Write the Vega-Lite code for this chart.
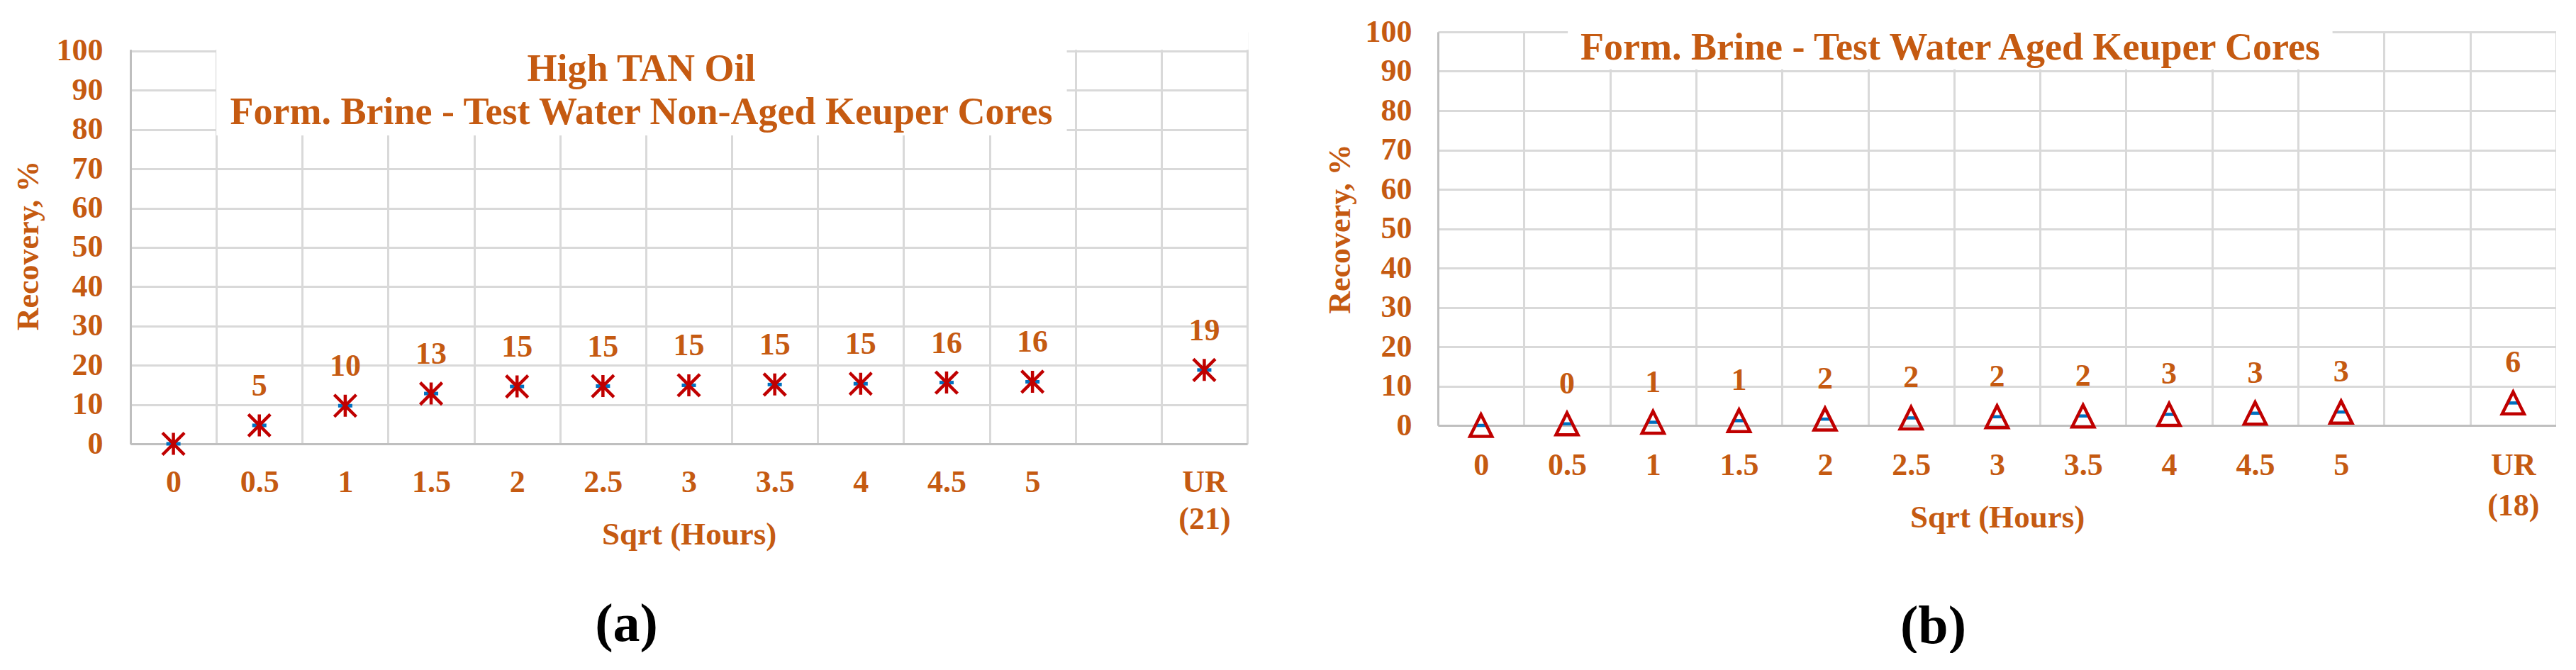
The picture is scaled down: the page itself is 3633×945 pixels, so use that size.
{
  "$schema": "https://vega.github.io/schema/vega-lite/v6.json",
  "background": "white",
  "padding": {"left": 18, "top": 23, "right": 0, "bottom": 0},
  "spacing": 106,
  "config": {"view": {"stroke": null}, "font": "Liberation Serif"},
  "hconcat": [
    {
      "width": 1575,
      "height": 581,
      "title": {
        "text": ["High TAN Oil", "Form. Brine - Test Water Non-Aged Keuper Cores"],
        "fontSize": 54,
        "lineHeight": 61,
        "font": "Liberation Serif",
        "fontWeight": "bold",
        "color": "#C55A11",
        "baseline": "top",
        "offset": -141,
        "dx": -67,
        "anchor": "middle"
      },
      "data": {"values": [
        {"t": "0", "r": 0},
        {"t": "0.5", "r": 4.7},
        {"t": "1", "r": 9.7},
        {"t": "1.5", "r": 12.8},
        {"t": "2", "r": 14.6},
        {"t": "2.5", "r": 14.7},
        {"t": "3", "r": 14.9},
        {"t": "3.5", "r": 15.1},
        {"t": "4", "r": 15.3},
        {"t": "4.5", "r": 15.6},
        {"t": "5", "r": 15.8},
        {"t": "UR", "r": 18.8}
      ]},
      "resolve": {"scale": {"x": "independent"}},
      "layer": [
        {
          "data": {"values": [{}]},
          "layer": [
            {
              "mark": {"type": "rect", "color": "white", "opacity": 1},
              "encoding": {
                "x": {"datum": 1, "type": "quantitative", "title": "(a)", "scale": {"domain": [0, 13], "nice": false, "zero": false},
                  "axis": {"orient": "bottom", "labels": false, "ticks": false, "domain": false, "grid": false,
                    "title": "(a)", "titleFontSize": 76, "titleColor": "#000000", "titleFont": "Liberation Serif",
                    "titleFontWeight": "bold", "titleX": 699, "titleY": 254, "titleBaseline": "middle"}},
                "x2": {"datum": 10.9},
                "y": {"datum": 78.5, "type": "quantitative", "scale": {"domain": [0, 104.87], "nice": false}, "title": "Recovery, %"},
                "y2": {"datum": 104.87}
              }
            },
            {
              "mark": {"type": "rect", "color": "white", "opacity": 1},
              "encoding": {
                "x": {"datum": -0.1, "type": "quantitative", "title": "(a)", "scale": {"domain": [0, 13], "nice": false, "zero": false}},
                "x2": {"datum": 13.015},
                "y": {"datum": 100.3, "type": "quantitative", "scale": {"domain": [0, 104.87], "nice": false}, "title": "Recovery, %"},
                "y2": {"datum": 104.87}
              }
            }
          ]
        },
        {
          "encoding": {
            "x": {"field": "t", "type": "ordinal",
              "scale": {"domain": ["0", "0.5", "1", "1.5", "2", "2.5", "3", "3.5", "4", "4.5", "5", "gap", "UR"], "paddingInner": 0, "paddingOuter": 0},
              "axis": {"orient": "bottom", "title": "Sqrt (Hours)", "titleFontSize": 45, "titleFont": "Liberation Serif", "titleFontWeight": "bold",
                "titleColor": "#C55A11", "titleY": 127, "titleBaseline": "middle",
                "labelFontSize": 44, "labelFont": "Liberation Serif", "labelFontWeight": "bold", "labelColor": "#C55A11",
                "labelPadding": 32, "labelLineHeight": 52, "labelAngle": 0, "labelOverlap": false,
                "labelExpr": "datum.value == 'UR' ? ['UR', '(21)'] : datum.value == 'gap' ? '' : datum.value",
                "ticks": false, "tickBand": "extent", "grid": true, "gridColor": "#D9D9D9", "gridWidth": 3,
                "domainColor": "#BFBFBF", "domainWidth": 3}},
            "y": {"field": "r", "type": "quantitative", "title": "Recovery, %",
              "scale": {"domain": [0, 104.87], "nice": false},
              "axis": {"values": [0, 10, 20, 30, 40, 50, 60, 70, 80, 90, 100],
                "titleFontSize": 44, "titleFont": "Liberation Serif", "titleFontWeight": "bold", "titleColor": "#C55A11",
                "titleX": -144, "titleY": 301, "titleBaseline": "middle",
                "labelFontSize": 44, "labelFont": "Liberation Serif", "labelFontWeight": "bold", "labelColor": "#C55A11",
                "labelPadding": 39, "ticks": false, "grid": true, "gridColor": "#D9D9D9", "gridWidth": 3,
                "domainColor": "#BFBFBF", "domainWidth": 3}}
          },
          "layer": [
            {"mark": {"type": "point", "shape": "M-1,-0.25L1,-0.25L1,0.25L-1,0.25Z", "size": 400, "filled": true, "fill": "#0070C0", "strokeWidth": 0, "opacity": 1}},
            {"mark": {"type": "point", "shape": "M0,-1L0,1M-1,-1L1,1M-1,1L1,-1", "size": 961, "filled": false, "stroke": "#C00000", "strokeWidth": 4.5, "opacity": 1}},
            {
              "transform": [{"filter": "datum.t != '0'"}],
              "mark": {"type": "text", "dy": -55, "fontSize": 44, "font": "Liberation Serif", "fontWeight": "bold", "color": "#C55A11", "baseline": "middle"},
              "encoding": {"text": {"field": "r", "type": "quantitative", "format": ".0f"}}
            }
          ]
        }
      ]
    },
    {
      "width": 1577,
      "height": 555,
      "title": {
        "text": "Form. Brine - Test Water Aged Keuper Cores",
        "fontSize": 54,
        "font": "Liberation Serif",
        "fontWeight": "bold",
        "color": "#C55A11",
        "baseline": "top",
        "offset": -72,
        "dx": -66,
        "anchor": "middle"
      },
      "data": {"values": [
        {"t": "0", "r": 0},
        {"t": "0.5", "r": 0.4},
        {"t": "1", "r": 0.8},
        {"t": "1.5", "r": 1.2},
        {"t": "2", "r": 1.6},
        {"t": "2.5", "r": 1.9},
        {"t": "3", "r": 2.2},
        {"t": "3.5", "r": 2.4},
        {"t": "4", "r": 2.8},
        {"t": "4.5", "r": 3.1},
        {"t": "5", "r": 3.4},
        {"t": "UR", "r": 5.7}
      ]},
      "resolve": {"scale": {"x": "independent"}},
      "layer": [
        {
          "data": {"values": [{}]},
          "mark": {"type": "rect", "color": "white", "opacity": 1},
          "encoding": {
            "x": {"datum": 1.51, "type": "quantitative", "scale": {"domain": [0, 13], "nice": false, "zero": false},
              "axis": {"orient": "bottom", "labels": false, "ticks": false, "domain": false, "grid": false,
                "title": "(b)", "titleFontSize": 76, "titleColor": "#000000", "titleFont": "Liberation Serif",
                "titleFontWeight": "bold", "titleX": 698, "titleY": 283, "titleBaseline": "middle"}},
            "x2": {"datum": 10.4},
            "y": {"datum": 90.5, "type": "quantitative", "scale": {"domain": [0, 100], "nice": false}, "title": "Recovery, %"},
            "y2": {"datum": 100.5}
          }
        },
        {
          "encoding": {
            "x": {"field": "t", "type": "ordinal",
              "scale": {"domain": ["0", "0.5", "1", "1.5", "2", "2.5", "3", "3.5", "4", "4.5", "5", "gap", "UR"], "paddingInner": 0, "paddingOuter": 0},
              "axis": {"orient": "bottom", "title": "Sqrt (Hours)", "titleFontSize": 45, "titleFont": "Liberation Serif", "titleFontWeight": "bold",
                "titleColor": "#C55A11", "titleY": 129, "titleBaseline": "middle",
                "labelFontSize": 44, "labelFont": "Liberation Serif", "labelFontWeight": "bold", "labelColor": "#C55A11",
                "labelPadding": 34, "labelLineHeight": 57, "labelAngle": 0, "labelOverlap": false,
                "labelExpr": "datum.value == 'UR' ? ['UR', '(18)'] : datum.value == 'gap' ? '' : datum.value",
                "ticks": false, "tickBand": "extent", "grid": true, "gridColor": "#D9D9D9", "gridWidth": 3,
                "domainColor": "#BFBFBF", "domainWidth": 3}},
            "y": {"field": "r", "type": "quantitative", "title": "Recovery, %",
              "scale": {"domain": [0, 100], "nice": false},
              "axis": {"values": [0, 10, 20, 30, 40, 50, 60, 70, 80, 90, 100],
                "titleFontSize": 44, "titleFont": "Liberation Serif", "titleFontWeight": "bold", "titleColor": "#C55A11",
                "titleX": -138, "titleBaseline": "middle",
                "labelFontSize": 44, "labelFont": "Liberation Serif", "labelFontWeight": "bold", "labelColor": "#C55A11",
                "labelPadding": 37, "ticks": false, "grid": true, "gridColor": "#D9D9D9", "gridWidth": 3,
                "domainColor": "#BFBFBF", "domainWidth": 3}}
          },
          "layer": [
            {"mark": {"type": "point", "shape": "M-1,-0.25L1,-0.25L1,0.25L-1,0.25Z", "size": 324, "filled": true, "fill": "#0070C0", "strokeWidth": 0, "opacity": 1}},
            {"mark": {"type": "point", "shape": "M0,-1L1,1L-1,1Z", "size": 961, "filled": false, "stroke": "#C00000", "strokeWidth": 4.5, "opacity": 1}},
            {
              "transform": [{"filter": "datum.t != '0'"}],
              "mark": {"type": "text", "dy": -56, "fontSize": 44, "font": "Liberation Serif", "fontWeight": "bold", "color": "#C55A11", "baseline": "middle"},
              "encoding": {"text": {"field": "r", "type": "quantitative", "format": ".0f"}}
            }
          ]
        }
      ]
    }
  ]
}
